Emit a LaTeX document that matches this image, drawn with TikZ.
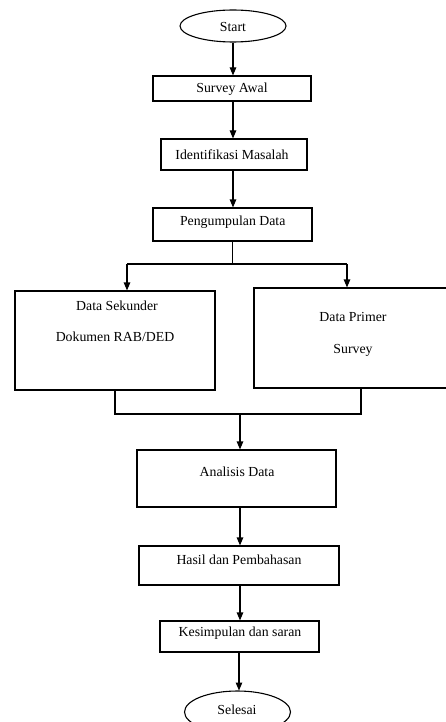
\documentclass[tikz,border=0pt]{standalone}
\usepackage{fontspec}
\setmainfont{Liberation Serif}
\usetikzlibrary{shapes.geometric,arrows.meta}
\begin{document}
\begin{tikzpicture}[x=1pt,y=-1pt,
  box/.style={draw,line width=1.1pt,rectangle,inner sep=0pt},
  term/.style={draw,line width=1.1pt,ellipse,inner sep=0pt},
  lbl/.style={font=\fontsize{13.8}{16}\selectfont,inner sep=0pt},
  conn/.style={line width=1.1pt},
  arr/.style={line width=1.1pt,-{Triangle[width=6.5pt,length=8pt]}}]
\useasboundingbox (0,0) rectangle (446,722);
\clip (0,0) rectangle (446,722);
\fill[white] (0,0) rectangle (446,722);

% shapes
\node[term,minimum width=106pt,minimum height=32pt] (start) at (233,26) {};
\node[box,minimum width=158pt,minimum height=25pt] (survey) at (232,88.5) {};
\node[box,minimum width=146pt,minimum height=31pt] (ident) at (234,154.5) {};
\node[box,minimum width=159pt,minimum height=33pt] (peng) at (232.5,224.5) {};
\node[box,minimum width=200pt,minimum height=99pt] (sek) at (115,340.5) {};
\node[box,minimum width=206pt,minimum height=100pt] (pri) at (357,338) {};
\node[box,minimum width=199pt,minimum height=57pt] (anal) at (236.5,478.5) {};
\node[box,minimum width=200pt,minimum height=39pt] (hasil) at (239,565.5) {};
\node[box,minimum width=159pt,minimum height=31pt] (kes) at (239.5,636.5) {};
\node[term,minimum width=106pt,minimum height=42pt] (sel) at (237.5,712) {};

% texts
\node[lbl] (tstart) at (233,27) {Start};
\node[lbl] (tsurvey) at (232,89.5) {Survey Awal};
\node[lbl] (tident) at (232,154.5) {Identifikasi Masalah};
\node[lbl] (tpeng) at (232.7,222.5) {Pengumpulan Data};
\node[lbl] (tsek1) at (117,306) {Data Sekunder};
\node[lbl] (tsek2) at (115,337) {Dokumen RAB/DED};
\node[lbl] (tpri1) at (353,317) {Data Primer};
\node[lbl] (tpri2) at (353,350) {Survey};
\node[lbl] (tanal) at (237,472) {Analisis Data};
\node[lbl] (thasil) at (239,560) {Hasil dan Pembahasan};
\node[lbl] (tkes) at (240,633.5) {Kesimpulan dan saran};
\node[lbl] (tsel) at (237,710) {Selesai};

% connectors
\draw[arr] (start.south) -- (survey.north -| start.south);
\draw[arr] (survey.south -| start.south) -- (ident.north -| start.south);
\draw[arr] (ident.south -| start.south) -- (peng.north -| start.south);

\coordinate (jm) at (232.5,264);
\coordinate (jl) at (127,264);
\coordinate (jr) at (347,264);
\draw[conn] (peng.south) -- (jm);
\draw[conn] (jl) -- (jr);
\draw[arr] (jl) -- (jl |- sek.north);
\draw[arr] (jr) -- (jr |- pri.north);

\coordinate (bl) at (115,414);
\coordinate (br) at (361,414);
\coordinate (bm) at (240,414);
\draw[conn] (sek.south) -- (bl) -- (br) -- (br |- pri.south);
\draw[arr] (bm) -- (bm |- anal.north);
\draw[arr] (bm |- anal.south) -- (bm |- hasil.north);
\draw[arr] (bm |- hasil.south) -- (bm |- kes.north);
\draw[arr] (239,652) -- (239,690.5);
\end{tikzpicture}
\end{document}
